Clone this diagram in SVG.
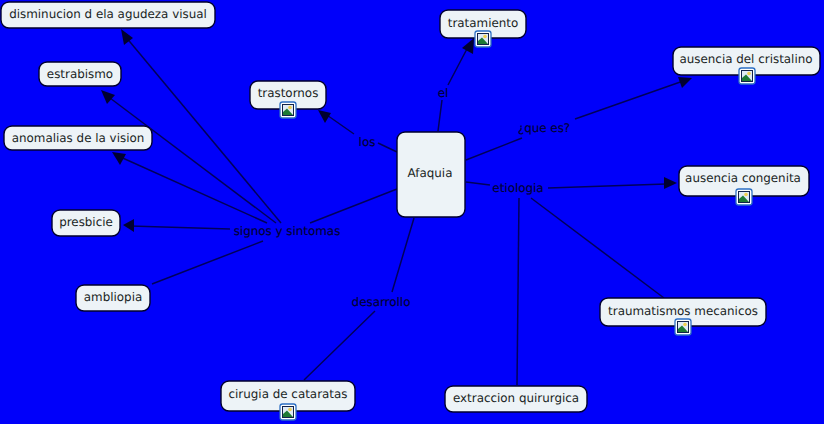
<svg xmlns="http://www.w3.org/2000/svg" width="824" height="424" viewBox="0 0 824 424">
<style>
.n{fill:#edf3f7;stroke:#00002e;stroke-width:1.4}
text{font-family:"DejaVu Sans",Verdana,sans-serif;font-size:11.9px;text-anchor:middle;text-rendering:geometricPrecision}
.t{fill:#1a1f24}
.l{fill:#000030;stroke:#000030;stroke-width:0.15}
.c{fill:none;stroke:#00005a;stroke-width:1.5}
.a{fill:#000030}
</style>
<defs>
<g id="ic">
<rect x="0.500" y="0.500" width="16" height="16" rx="2.500" fill="#fff" stroke="#2d6fc4" stroke-width="1.300"/>
<rect x="3" y="3" width="11" height="11" fill="#dfeaf5" stroke="#11224a"/>
<circle cx="10.500" cy="6" r="1.800" fill="#f0d050"/>
<path d="M3.500 13.500V10.500L7.500 7L13.500 13.500Z" fill="#1e7a34"/>
</g>
</defs>
<rect width="824" height="424" fill="#0000fa"/>
<g id="connectors">
<path class="c" d="M397 152L378 143M354 134L324 113"/><path class="a" d="M318 110L331 113L325 123Z"/>
<path class="c" d="M438 131L442 100M448 85L469 45"/><path class="a" d="M474 38L473 54L462 48Z"/>
<path class="c" d="M466 160L522 138M575 119L686 80"/><path class="a" d="M692 78L682 88L678 77Z"/>
<path class="c" d="M466 182L490 185M548 188L666 184"/><path class="a" d="M677 183L664 189V177Z"/>
<path class="c" d="M531 198L664 298"/>
<path class="c" d="M519 198L517 385"/>
<path class="c" d="M414 218L392 292M375 311L304 380"/>
<path class="c" d="M397 189L310 223"/>
<path class="c" d="M281 223L125 36"/><path class="a" d="M121 29L133 38L124 45Z"/>
<path class="c" d="M276 223L106 95"/><path class="a" d="M101 90L115 95L107 104Z"/>
<path class="c" d="M267 223L116 155"/><path class="a" d="M112 152L126 154L120 165Z"/>
<path class="c" d="M230 229L130 226"/><path class="a" d="M123 225L134 219V232Z"/>
<path class="c" d="M263 241L152 284"/>
</g>
<g id="labels">
<text class="l" x="367" y="146">los</text>
<text class="l" x="443" y="97">el</text>
<text class="l" x="544" y="132">¿que es?</text>
<text class="l" x="518" y="192">etiologia</text>
<text class="l" x="287" y="235">signos y sintomas</text>
<text class="l" x="381" y="306">desarrollo</text>
</g>
<g id="n-afaquia"><rect class="n" x="397" y="132" width="68" height="85" rx="8"/><text class="t" x="430" y="177">Afaquia</text></g>
<g id="n-disminucion"><rect class="n" x="1" y="2" width="214" height="26" rx="8"/><text class="t" x="108" y="18">disminucion d ela agudeza visual</text></g>
<g id="n-estrabismo"><rect class="n" x="39" y="62" width="82" height="24" rx="8"/><text class="t" x="80" y="78">estrabismo</text></g>
<g id="n-anomalias"><rect class="n" x="4" y="126" width="148" height="24" rx="8"/><text class="t" x="78" y="142">anomalias de la vision</text></g>
<g id="n-presbicie"><rect class="n" x="52" y="210" width="68" height="26" rx="8"/><text class="t" x="86" y="226">presbicie</text></g>
<g id="n-ambliopia"><rect class="n" x="76" y="285" width="74" height="26" rx="8"/><text class="t" x="113" y="301">ambliopia</text></g>
<g id="n-trastornos"><rect class="n" x="250" y="81" width="76" height="28" rx="8"/><text class="t" x="288" y="97">trastornos</text><use href="#ic" x="279.500" y="101.500"/></g>
<g id="n-tratamiento"><rect class="n" x="440" y="10" width="86" height="28" rx="8"/><text class="t" x="483" y="27">tratamiento</text><use href="#ic" x="474.500" y="30.500"/></g>
<g id="n-cristalino"><rect class="n" x="673" y="47" width="147" height="28" rx="8"/><text class="t" x="746" y="63">ausencia del cristalino</text><use href="#ic" x="738.500" y="67.500"/></g>
<g id="n-congenita"><rect class="n" x="679" y="166" width="130" height="30" rx="8"/><text class="t" x="743" y="182">ausencia congenita</text><use href="#ic" x="735.500" y="188.500"/></g>
<g id="n-traumatismos"><rect class="n" x="600" y="298" width="166" height="28" rx="8"/><text class="t" x="683" y="315">traumatismos mecanicos</text><use href="#ic" x="674.500" y="318.500"/></g>
<g id="n-extraccion"><rect class="n" x="445" y="386" width="142" height="26" rx="8"/><text class="t" x="516" y="402">extraccion quirurgica</text></g>
<g id="n-cirugia"><rect class="n" x="221" y="381" width="134" height="30" rx="8"/><text class="t" x="288" y="398">cirugia de cataratas</text><use href="#ic" x="279.500" y="403.500"/></g>
</svg>
